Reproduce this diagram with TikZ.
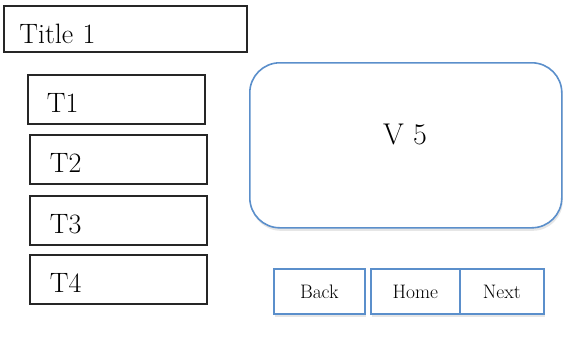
\documentclass[tikz,border=0pt]{standalone}
\usetikzlibrary{shadows}
\definecolor{boxblue}{HTML}{5B8FCB}
\tikzset{
  blk/.style={draw=black!85, line width=1.7pt, rectangle, anchor=north west, align=left, inner ysep=0pt},
  blu/.style={draw=boxblue, line width=1.6pt, fill=white, drop shadow={opacity=0.2, shadow xshift=1pt, shadow yshift=-3pt}},
  btn/.style={blu, rectangle, anchor=north west, minimum height=45pt, inner sep=0pt, text height=15pt, text depth=0pt, font=\fontsize{19.5}{22}\selectfont},
  tfont/.style={font=\fontsize{28}{32}\selectfont}
}
\begin{document}
\begin{tikzpicture}[x=1pt,y=-1pt]
\useasboundingbox (0,0) rectangle (571,341);
\node[blk, tfont, minimum height=46pt, text width=212pt, inner xsep=15.5pt, text height=30pt, text depth=0pt] (title) at (3,5) {Title 1};
\node[blk, tfont, minimum height=49pt, text width=139pt, inner xsep=19pt, text height=27pt, text depth=0pt] (t1) at (27,74) {T1};
\node[blk, tfont, minimum height=49pt, text width=137pt, inner xsep=20pt, text height=27pt, text depth=0pt] (t2) at (29,134) {T2};
\node[blk, tfont, minimum height=49pt, text width=137pt, inner xsep=20pt, text height=27pt, text depth=0pt] (t3) at (29,195) {T3};
\node[blk, tfont, minimum height=49pt, text width=137pt, inner xsep=20pt, text height=27pt, text depth=0pt] (t4) at (29,254) {T4};
\node[blu, rectangle, rounded corners=30pt, minimum width=312pt, minimum height=165pt, anchor=north west] (v5) at (249,62) {};
\node[font=\fontsize{30}{34}\selectfont] (v5t) at (405,134) {V 5};
\node[btn, minimum width=91pt] (back) at (273,268) {Back};
\node[btn, minimum width=89pt] (home) at (370,268) {Home};
\node[btn, minimum width=84pt] (next) at (459,268) {Next};
\end{tikzpicture}
\end{document}
